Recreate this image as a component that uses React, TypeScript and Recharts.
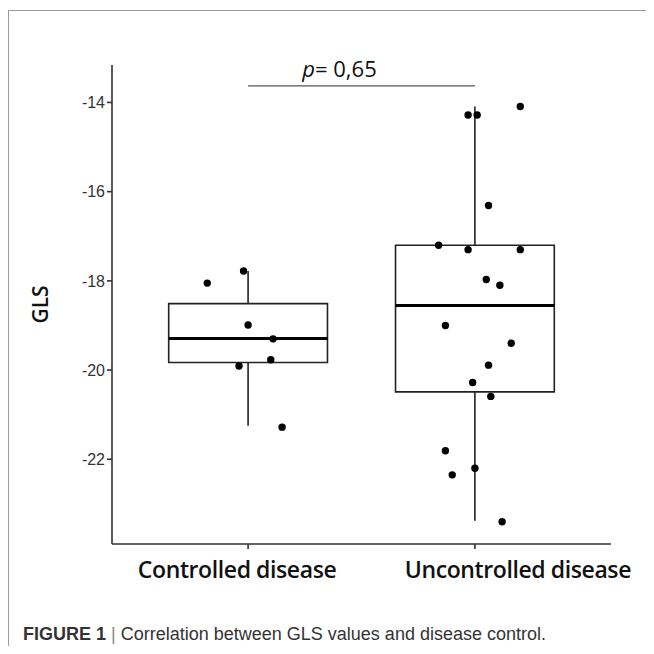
import {
  ScatterChart, Scatter, XAxis, YAxis, ReferenceArea, ReferenceLine,
} from 'recharts'

const categories = ['Controlled disease', 'Uncontrolled disease']

// box statistics per group: low whisker, q1, median, q3, high whisker
const whiskerLow = [-21.25, -23.38]
const q1 = [-19.83, -20.49]
const median = [-19.29, -18.55]
const q3 = [-18.51, -17.2]
const whiskerHigh = [-17.78, -14.09]

// jittered points (offset from group centre, GLS value)
const controlledJitter = [-0.18, -0.02, 0.0, 0.11, 0.1, -0.04, 0.15]
const controlledGls = [-18.05, -17.78, -18.99, -19.3, -19.77, -19.91, -21.28]

const uncontrolledJitter = [
  -0.03, 0.01, 0.2, 0.06, -0.16, -0.03, 0.2, 0.05, 0.11,
  -0.13, 0.16, 0.06, -0.01, 0.07, -0.13, 0.0, -0.1, 0.12,
]
const uncontrolledGls = [
  -14.28, -14.28, -14.09, -16.31, -17.2, -17.3, -17.3, -17.97, -18.1,
  -19.0, -19.4, -19.89, -20.28, -20.59, -21.81, -22.2, -22.35, -23.4,
]

const yTicks = [-22, -20, -18, -16, -14]
const pValue = 'p= 0,65'
const pLineY = -13.63

const controlledPts = controlledGls.map((y, i) => ({ x: 1 + controlledJitter[i], y }))
const uncontrolledPts = uncontrolledGls.map((y, i) => ({ x: 2 + uncontrolledJitter[i], y }))

const HALF = 0.35
const INK = '#222'
// the category labels sit a little off their ticks in the original figure
const labelShift = [-11, 43]

const Dot = (p: any) => <circle cx={p.cx} cy={p.cy} r={3.7} fill="#000" />

const XTick = ({ x, y, payload, index }: any) => (
  <text x={x + labelShift[index]} y={y} dy="0.71em" textAnchor="middle"
    fontFamily="Open Sans" fontWeight={600} fontSize={23} letterSpacing={-0.4} fill="#111">
    {categories[payload.value - 1]}
  </text>
)

const PLabel = ({ viewBox }: any) => {
  const cx = viewBox.x + viewBox.width / 2 - 22
  return (
    <text x={cx} y={viewBox.y - 9} textAnchor="middle" fontFamily="Open Sans" fontSize={22} fill="#111">
      <tspan fontStyle="italic">p</tspan>
      <tspan>{pValue.slice(1)}</tspan>
    </text>
  )
}

const GlsLabel = ({ viewBox }: any) => {
  const x = viewBox.x - 12
  const y = viewBox.y + viewBox.height / 2
  return (
    <text x={x} y={y} transform={`rotate(-90, ${x}, ${y})`} textAnchor="middle"
      dominantBaseline="central" fontFamily="Open Sans" fontWeight={600} fontSize={21} fill="#111">
      GLS
    </text>
  )
}

export default function App() {
  return (
    <div style={{ position: 'relative', width: 654, height: 654, margin: -8, background: '#fff' }}>
      <div style={{
        position: 'absolute', left: 8, top: 10, right: 0, bottom: 0,
        borderTop: '1px solid #9c9c9c', borderLeft: '1px solid #9c9c9c',
      }} />
      <div style={{ position: 'absolute', left: 0, top: 0 }}>
        <ScatterChart width={654} height={600} margin={{ top: 65, right: 43, bottom: 16, left: 52 }}>
          <XAxis
            type="number"
            dataKey="x"
            domain={[0.4, 2.6]}
            ticks={[1, 2]}
            allowDataOverflow
            axisLine={{ stroke: '#333', strokeWidth: 1.6 }}
            tickLine={{ stroke: '#333', strokeWidth: 1.6 }}
            tickSize={5}
            tickMargin={13}
            height={40}
            tick={<XTick />}
          />
          <YAxis
            type="number"
            dataKey="y"
            domain={[-23.9, -13.16]}
            ticks={yTicks}
            allowDataOverflow
            width={60}
            axisLine={{ stroke: '#333', strokeWidth: 1.6 }}
            tickLine={{ stroke: '#333', strokeWidth: 1.6 }}
            tickSize={5}
            tickMargin={2}
            tick={{ fontFamily: 'Liberation Sans', fontSize: 16, fill: '#333' }}
            label={<GlsLabel />}
          />
          {categories.map((c, i) => (
            <ReferenceArea
              key={c}
              x1={i + 1 - HALF}
              x2={i + 1 + HALF}
              y1={q1[i]}
              y2={q3[i]}
              fill="#fff"
              fillOpacity={0}
              stroke={INK}
              strokeWidth={1.6}
            />
          ))}
          {categories.map((c, i) => (
            <ReferenceLine key={c + 'hi'} segment={[{ x: i + 1, y: q3[i] }, { x: i + 1, y: whiskerHigh[i] }]}
              stroke={INK} strokeWidth={1.6} />
          ))}
          {categories.map((c, i) => (
            <ReferenceLine key={c + 'lo'} segment={[{ x: i + 1, y: q1[i] }, { x: i + 1, y: whiskerLow[i] }]}
              stroke={INK} strokeWidth={1.6} />
          ))}
          {categories.map((c, i) => (
            <ReferenceLine key={c + 'med'} segment={[{ x: i + 1 - HALF, y: median[i] }, { x: i + 1 + HALF, y: median[i] }]}
              stroke="#000" strokeWidth={3} />
          ))}
          <ReferenceLine segment={[{ x: 1, y: pLineY }, { x: 2, y: pLineY }]} stroke="#555" strokeWidth={1.2}
            label={<PLabel />} />
          <Scatter data={controlledPts} shape={Dot} isAnimationActive={false} />
          <Scatter data={uncontrolledPts} shape={Dot} isAnimationActive={false} />
        </ScatterChart>
      </div>
      <div style={{
        position: 'absolute', left: 23, top: 624, fontFamily: 'Liberation Sans, Arial', fontSize: 18,
        color: '#333', whiteSpace: 'nowrap',
      }}>
        <b>FIGURE 1</b> <span style={{ color: '#888' }}>|</span> Correlation between GLS values and disease control.
      </div>
    </div>
  )
}
